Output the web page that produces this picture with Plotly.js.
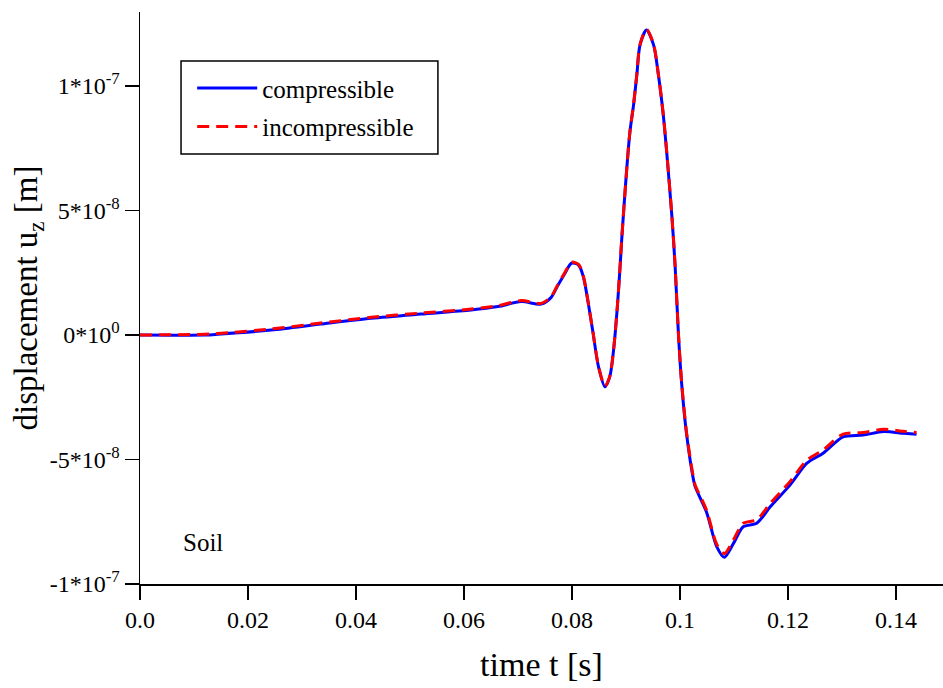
<!DOCTYPE html>
<html>
<head>
<meta charset="utf-8">
<script src="https://cdn.plot.ly/plotly-3.0.1.min.js"></script>
<style>html,body{margin:0;padding:0;background:#fff;}#chart{width:943px;height:688px;}</style>
</head>
<body>
<div id="chart"></div>
<script>
// time [s]
const timeCompressible = [0, 0.012, 0.0144, 0.0243, 0.0335, 0.0428, 0.052, 0.0613, 0.0663, 0.0706, 0.0743, 0.0761, 0.0772, 0.0787, 0.0799, 0.0812, 0.0821, 0.083, 0.0839, 0.0849, 0.0861, 0.087, 0.0877, 0.0884, 0.0889, 0.0892, 0.0907, 0.0914, 0.092, 0.0926, 0.0938, 0.0951, 0.096, 0.0969, 0.0975, 0.0985, 0.0991, 0.0997, 0.1003, 0.1012, 0.1025, 0.1028, 0.1049, 0.1068, 0.1082, 0.1099, 0.1117, 0.1142, 0.1167, 0.1204, 0.1235, 0.1265, 0.1302, 0.1339, 0.1377, 0.1414, 0.1438];
// displacement u_z [1e-8 m]
const uzCompressible = [0, 0, 0.03, 0.20, 0.44, 0.67, 0.84, 1.00, 1.14, 1.34, 1.24, 1.50, 1.92, 2.48, 2.88, 2.81, 2.34, 1.29, 0.08, -1.27, -2.08, -1.67, -0.60, 1.14, 2.74, 3.82, 8.10, 9.24, 10.44, 11.65, 12.25, 11.65, 10.44, 8.84, 7.43, 4.75, 2.74, 0.07, -1.94, -3.95, -5.82, -6.09, -7.11, -8.50, -8.93, -8.37, -7.70, -7.56, -6.90, -6.02, -5.15, -4.75, -4.09, -4.02, -3.88, -3.95, -3.99];
const timeIncompressible = timeCompressible;
const uzIncompressible = [0, 0.03, 0.06, 0.24, 0.48, 0.71, 0.88, 1.04, 1.18, 1.38, 1.27, 1.53, 1.95, 2.52, 2.92, 2.84, 2.36, 1.30, 0.09, -1.25, -2.05, -1.65, -0.58, 1.16, 2.76, 3.84, 8.12, 9.26, 10.46, 11.67, 12.27, 11.67, 10.46, 8.86, 7.45, 4.77, 2.76, 0.09, -1.90, -3.90, -5.75, -6.02, -7.03, -8.40, -8.78, -8.22, -7.56, -7.42, -6.76, -5.88, -5.02, -4.62, -3.98, -3.92, -3.79, -3.87, -3.92];
const yTickVals = [-1e-7, -5e-8, 0, 5e-8, 1e-7];
const yTickText = ["-1*10<sup>-7</sup>", "-5*10<sup>-8</sup>", "0*10<sup>0</sup>", "5*10<sup>-8</sup>", "1*10<sup>-7</sup>"];
const xTickVals = [0, 0.02, 0.04, 0.06, 0.08, 0.1, 0.12, 0.14];
const xTickText = ["0.0", "0.02", "0.04", "0.06", "0.08", "0.1", "0.12", "0.14"];
const seriesNames = ["compressible", "incompressible"];

const scale = 1e-8;
const FONT = "'Liberation Serif', 'Times New Roman', Times, serif";

const traces = [
  {x: timeCompressible, y: uzCompressible.map(v => v * scale), name: seriesNames[0], type: "scatter", mode: "lines",
   legendgroup: "g1", line: {color: "#0000ff", width: 3, shape: "spline", smoothing: 0.8}},
  {x: timeIncompressible, y: uzIncompressible.map(v => v * scale), name: seriesNames[1], type: "scatter", mode: "lines",
   legendgroup: "g2", line: {color: "#ff0000", width: 3, dash: "12px,7px", shape: "spline", smoothing: 0.8}}
];

const layout = {
  width: 943, height: 688,
  margin: {l: 140, r: 0, t: 12, b: 104},
  paper_bgcolor: "#fff", plot_bgcolor: "#fff",
  font: {family: FONT, color: "#000", size: 24},
  showlegend: true,
  legend: {x: 0.065, y: 0.907, xanchor: "left", yanchor: "top", bgcolor: "rgba(0,0,0,0)",
           borderwidth: 0, itemwidth: 60, tracegroupgap: 3, font: {family: FONT, size: 25, color: "#000"}},
  shapes: [
    {type: "rect", xref: "paper", yref: "paper", x0: 0.0511, x1: 0.371, y0: 0.7517, y1: 0.9143,
     line: {color: "#000", width: 1.5}, fillcolor: "rgba(0,0,0,0)", layer: "above"}
  ],
  xaxis: {range: [0, 0.1487], showgrid: false, zeroline: false, showline: true, linecolor: "#000", linewidth: 1.5,
          ticks: "outside", ticklen: 14, tickwidth: 1.5, tickcolor: "#000",
          tickvals: xTickVals, ticktext: xTickText, tickfont: {family: FONT, size: 24},
          title: {text: "time t [s]", font: {family: FONT, size: 34}, standoff: 20}},
  yaxis: {range: [-1e-7, 1.297e-7], showgrid: false, zeroline: false, showline: true, linecolor: "#000", linewidth: 1.5,
          ticks: "outside", ticklen: 14, tickwidth: 1.5, tickcolor: "#000",
          tickvals: yTickVals, ticktext: yTickText, tickfont: {family: FONT, size: 24},
          title: {text: "displacement u<sub>z</sub> [m]", font: {family: FONT, size: 33}, standoff: 2}},
  annotations: [
    {text: "Soil", xref: "paper", yref: "paper", x: 0.051, y: 0.0717, xanchor: "left", yanchor: "middle",
     showarrow: false, font: {family: FONT, size: 25, color: "#000"}}
  ]
};

Plotly.newPlot("chart", traces, layout, {displayModeBar: false, staticPlot: true});
</script>
</body>
</html>
